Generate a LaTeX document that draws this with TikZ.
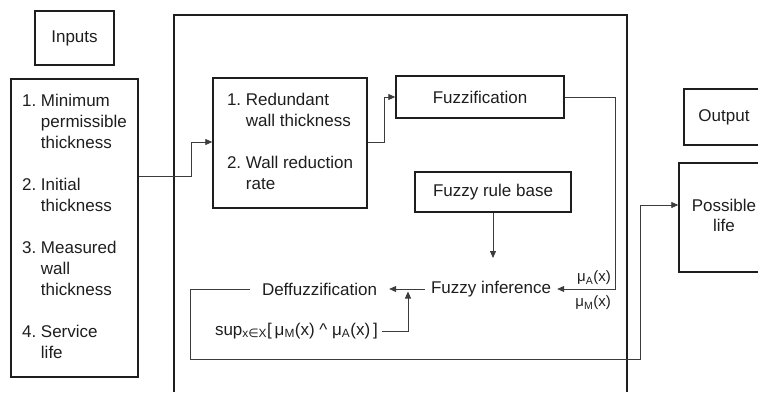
\documentclass[tikz,border=0pt]{standalone}
\usepackage{fontspec}
\setmainfont{Liberation Sans}
\newfontfamily\dvfont{DejaVu Sans}
\usetikzlibrary{arrows.meta}
\definecolor{boxc}{HTML}{1E1E1E}
\definecolor{linec}{HTML}{3C3C3C}
\definecolor{txtc}{HTML}{1E1E1E}
\newcommand{\lowsub}[1]{\textsubscript{#1}}
\begin{document}
\begin{tikzpicture}[x=1pt,y=-1pt,
  every node/.style={text=txtc},
  box/.style={draw=boxc, line width=1.4pt, inner sep=0pt, font=\fontsize{17}{21}\selectfont},
  plain/.style={inner sep=0pt, font=\fontsize{17}{21}\selectfont},
  small/.style={inner sep=0pt, font=\fontsize{15}{18}\selectfont},
  conn/.style={draw=linec, line width=0.8pt},
  arr/.style={conn, -{Triangle[length=7pt,width=6pt]}},
]
\useasboundingbox (0,0) rectangle (758,392);

% outer frame of the system
\draw[boxc, line width=1.3pt] (174,392) -- (174,15) -- (627,15) -- (627,392);

% boxes
\node[box, minimum width=79pt, minimum height=54pt] (inputs) at (74.5,38) {Inputs};
\node[box, minimum width=127pt, minimum height=298pt] (inlist) at (74.5,228)
  {\begin{tabular}{@{}l@{\ }l@{}}
   1. & Minimum\\ & permissible\\ & thickness\\ & \\
   2. & Initial\\ & thickness\\ & \\
   3. & Measured\\ & wall\\ & thickness\\ & \\
   4. & Service\\ & life
   \end{tabular}};
\node[box, minimum width=154pt, minimum height=130pt] (redund) at (290,143)
  {\begin{tabular}{@{}l@{\ }l@{}}
   1. & Redundant\\ & wall thickness\\ & \\
   2. & Wall reduction\\ & rate
   \end{tabular}};
\node[box, minimum width=168pt, minimum height=42pt] (fuzz) at (480,97) {Fuzzification};
\node[box, minimum width=156pt, minimum height=40pt] (rule) at (493,192) {Fuzzy rule base};
\node[box, minimum width=80pt, minimum height=56pt] (output) at (724,117) {Output};
\node[box, minimum width=90pt, minimum height=109pt, font=\fontsize{17}{20}\selectfont] (life) at (724,217.5)
  {\raisebox{3.5pt}{\begin{tabular}{@{}c@{}}Possible\\life\end{tabular}}};

% unboxed text nodes
\node[plain, inner xsep=6pt] (fi) at (491,289) {Fuzzy inference};
\node[plain, inner xsep=12pt] (def) at (319.5,289) {Deffuzzification};
\node[plain, anchor=east, inner xsep=4pt] (sup) at (382,331)
  {sup\lowsub{x{\dvfont ∈}X}[\,μ\lowsub{M}(x) \^{} μ\lowsub{A}(x)\,]};
\node[small, anchor=east] (muA) at (611,278) {μ\lowsub{A}(x)};
\node[small, anchor=east] (muM) at (611,303) {μ\lowsub{M}(x)};

% connectors
\draw[arr] (inlist.east |- 0,176) -| (191,142) -- (redund.west |- 0,142);
\draw[arr] (redund.east |- 0,142) -- (384,142) |- (fuzz.west);
\draw[arr] (fuzz.east) -| (615,289) -- (fi.east);
\draw[arr] (rule.south) -- (rule.south |- 0,258);
\draw[arr] (fi.west) -- (def.east);
\draw[arr] (sup.east) -| (408,291.5);
\draw[conn] (def.west) -| (190,359) -| (640,205);
\draw[arr] (640,205) -- (life.west |- 0,205);
\end{tikzpicture}
\end{document}
